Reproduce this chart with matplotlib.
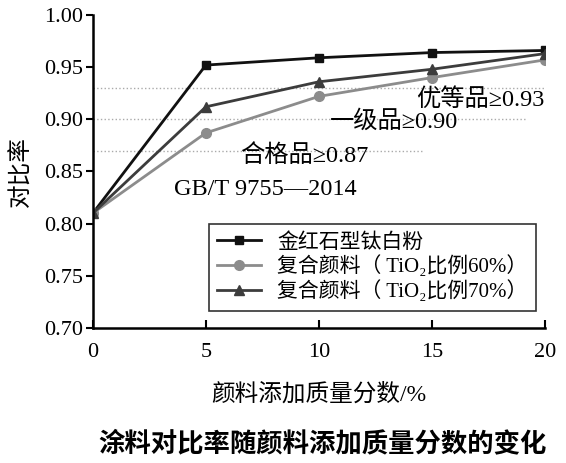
import matplotlib.pyplot as plt

plt.rcParams['font.family'] = ['Liberation Serif', 'Noto Sans CJK SC', 'DejaVu Sans']

# Pigment addition mass fraction (%)
x = [0, 5, 10, 15, 20]

# Contrast ratio of each formulation
rutile = [0.810, 0.952, 0.959, 0.964, 0.966]
tio2_60 = [0.810, 0.887, 0.922, 0.940, 0.957]
tio2_70 = [0.810, 0.912, 0.936, 0.948, 0.963]

labels = ['金红石型钛白粉', '复合颜料（ TiO₂比例60%）', '复合颜料（ TiO₂比例70%）']

# GB/T 9755-2014 grade limits
grade_values = [0.93, 0.90, 0.87]
grade_texts = ['优等品≥0.93', '一级品≥0.90', '合格品≥0.87']

fig = plt.figure(figsize=(5.66, 4.63), dpi=100)
ax = fig.add_axes([0.164, 0.2916, 0.799, 0.676])

# Dotted grade lines
ax.plot([0, 20], [grade_values[0], grade_values[0]], ls=':', color='#aaaaaa', lw=1)
ax.plot([0, 19.2], [grade_values[1], grade_values[1]], ls=':', color='#aaaaaa', lw=1)
ax.plot([0, 14.6], [grade_values[2], grade_values[2]], ls=':', color='#aaaaaa', lw=1)

ax.plot(x, rutile, color='#111111', lw=2, marker='s', ms=6, label=labels[0])
ax.plot(x, tio2_60, color='#8c8c8c', lw=2, marker='o', ms=7, label=labels[1])
ax.plot(x, tio2_70, color='#3c3c3c', lw=2, marker='^', ms=7, label=labels[2])

ax.text(14.3, 0.919, grade_texts[0], fontsize=17.5, va='center')
ax.text(10.5, 0.898, grade_texts[1], fontsize=17.5, va='center')
ax.text(6.5, 0.865, grade_texts[2], fontsize=17.5, va='center')
ax.text(3.6, 0.833, 'GB/T 9755—2014', fontsize=17.5, va='center')

ax.set_xlim(0, 20)
ax.set_ylim(0.70, 1.00)
ax.set_xticks([0, 5, 10, 15, 20])
ax.set_yticks([0.70, 0.75, 0.80, 0.85, 0.90, 0.95, 1.00])
ax.set_yticklabels(['0.70', '0.75', '0.80', '0.85', '0.90', '0.95', '1.00'])
ax.tick_params(axis='x', direction='in', length=6, width=1.5, labelsize=16, pad=11)
ax.tick_params(axis='y', direction='out', length=5, width=1.5, labelsize=16, pad=2)
for side in ['top', 'right']:
    ax.spines[side].set_visible(False)
for side in ['left', 'bottom']:
    ax.spines[side].set_linewidth(1.8)

ax.set_xlabel('颜料添加质量分数/%', fontsize=17, labelpad=15)
ax.set_ylabel('对比率', fontsize=17, labelpad=8)

leg = ax.legend(loc='lower right', bbox_to_anchor=(0.98, 0.055), fontsize=15,
                frameon=True, fancybox=False, edgecolor='black', handlelength=2.1,
                borderpad=0.4, labelspacing=0.15, borderaxespad=0)
leg.get_frame().set_linewidth(1.2)

fig.text(0.57, 0.043, '涂料对比率随颜料添加质量分数的变化', fontsize=19,
         fontweight='bold', ha='center', va='center')

fig.savefig('out.png', dpi=100)
